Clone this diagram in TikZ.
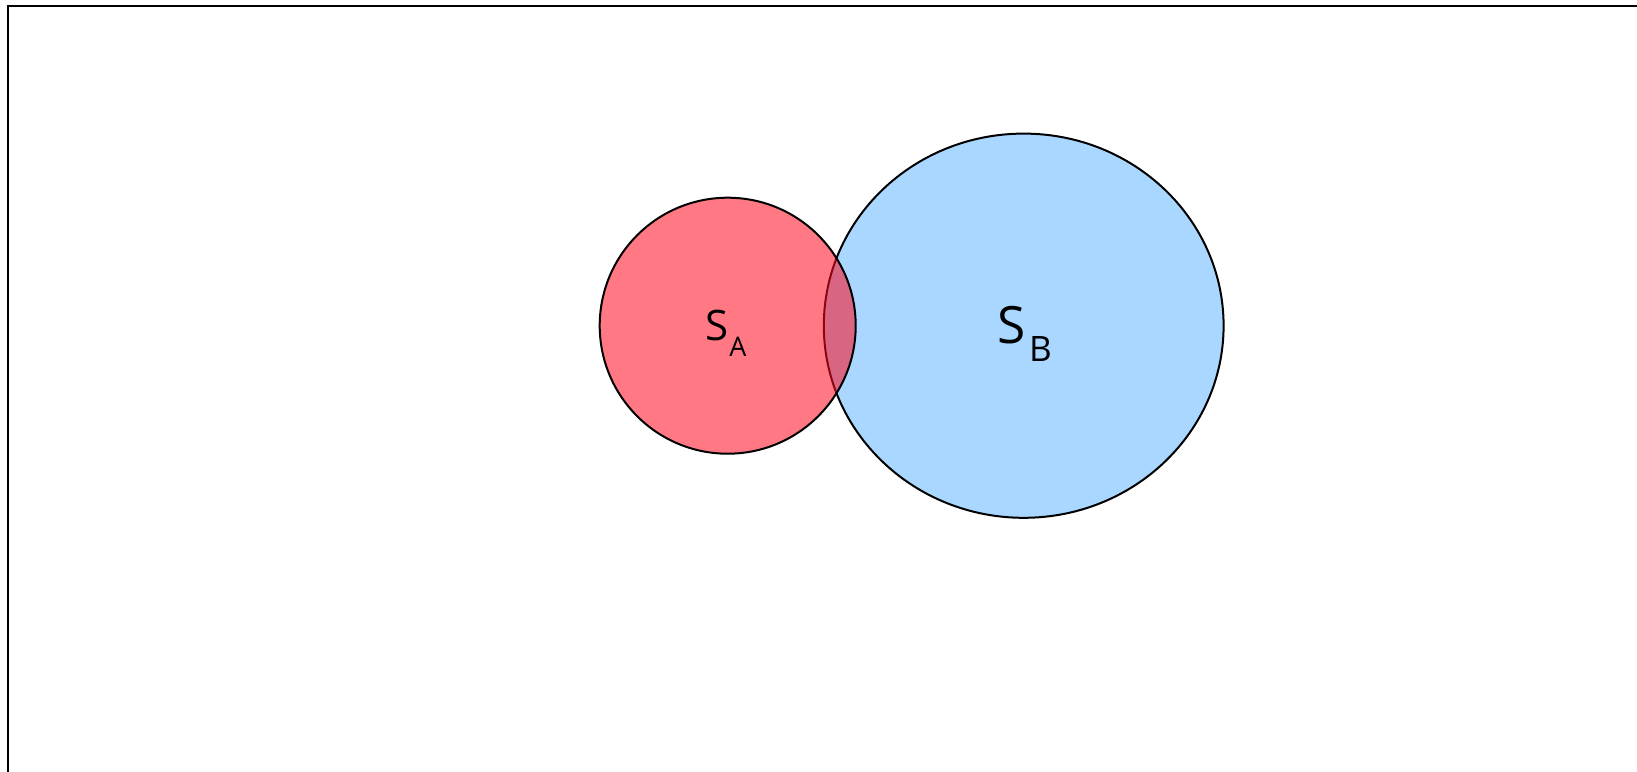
\documentclass[tikz,border=0pt]{standalone}
\usepackage{fontspec}
\setmainfont{Open Sans}
\definecolor{setblue}{HTML}{AAD7FF}
\definecolor{setred}{HTML}{FF0A1E}
\begin{document}
\begin{tikzpicture}[x=0.5pt,y=-0.5pt,
  outline/.style={draw=black,line width=1pt},
  lbl/.style={inner sep=0pt,anchor=base west}]
\useasboundingbox (0,0) rectangle (1637,771);
\clip (0,0) rectangle (1637,771);
\fill[white] (0,0) rectangle (1637,771);
\draw[line width=1pt] (8,6) rectangle (1700,820);
\path[outline,fill=setblue] (1023.7,325.7) ellipse [x radius=199.9, y radius=192.1];
\path[outline,fill=setred,fill opacity=0.55] (727.7,325.7) circle [radius=128];
\node[lbl] (sa) at (705,340) {\fontsize{21pt}{25pt}\selectfont S\kern0.5pt\raisebox{-8pt}{\fontsize{13.5pt}{16pt}\selectfont A}};
\node[lbl] (sb) at (997.5,343.3) {\fontsize{25.7pt}{30pt}\selectfont S\kern1.5pt\raisebox{-9pt}{\fontsize{17.5pt}{21pt}\selectfont B}};
\end{tikzpicture}
\end{document}
